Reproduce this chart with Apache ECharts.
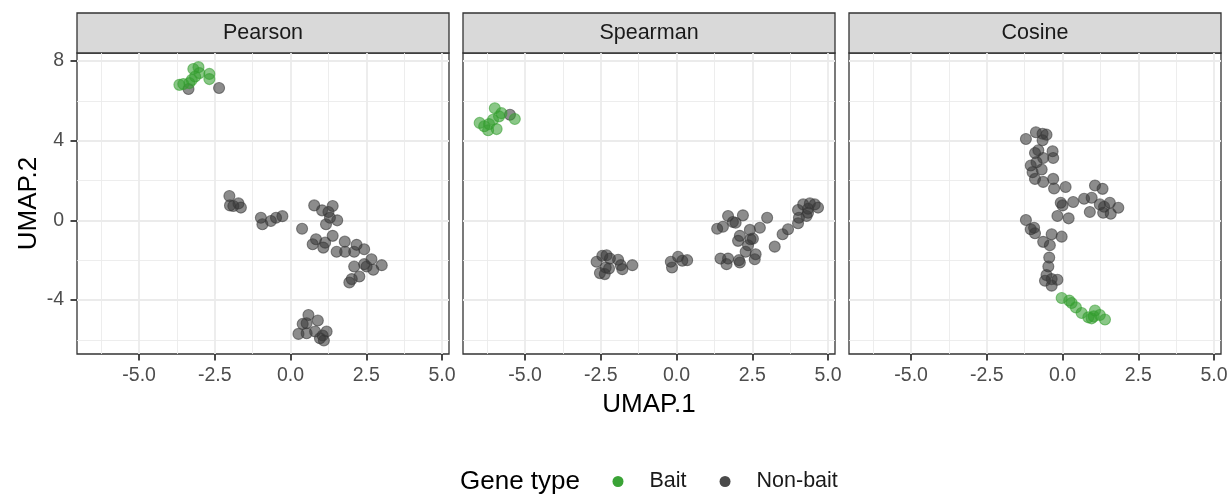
<!DOCTYPE html>
<html>
<head>
<meta charset="utf-8">
<script src="https://cdn.jsdelivr.net/npm/echarts@6/dist/echarts.min.js"></script>
<style>
  html, body { margin: 0; padding: 0; background: #ffffff; }
  #chart { width: 1232px; height: 498px; }
</style>
</head>
<body>
<div id="chart"></div>
<script>
// Facet panels (similarity measure used for the UMAP embedding)
const panels = ['Pearson', 'Spearman', 'Cosine'];
const geneTypes = ['Bait', 'Non-bait'];

// Axis ticks
const xMajorTicks = [-5, -2.5, 0, 2.5, 5];
const xMinorTicks = [-6.25, -3.75, -1.25, 1.25, 3.75];
const yMajorTicks = [-4, 0, 4, 8];
const yMinorTicks = [-6, -2, 2, 6];
const xTickLabels = ['-5.0', '-2.5', '0.0', '2.5', '5.0'];
const yTickLabels = ['-4', '0', '4', '8'];

// Pearson embedding [UMAP.1, UMAP.2]
const pearsonBait = [
  [-3.67, 6.80], [-3.54, 6.84], [-3.34, 6.89], [-3.26, 7.05], [-3.21, 7.60],
  [-3.04, 7.69], [-3.01, 7.39], [-2.68, 7.35], [-2.68, 7.09], [-3.15, 7.22]
];
const pearsonNonBait = [
  [-3.37, 6.59], [-2.36, 6.64],
  [-2.02, 1.22], [-2.00, 0.75], [-1.72, 0.85], [-1.64, 0.64], [-1.89, 0.72],
  [-0.98, 0.13], [-0.93, -0.20], [-0.65, -0.03], [-0.48, 0.13], [-0.27, 0.21],
  [0.38, -0.42], [0.78, 0.75], [1.04, 0.50], [1.39, 0.72], [1.25, 0.42],
  [1.30, 0.13], [1.54, 0.00], [1.17, -0.20], [0.84, -0.95], [0.73, -1.20],
  [1.08, -1.37], [1.14, -1.12], [1.39, -0.78], [1.79, -1.07], [2.18, -1.23],
  [1.52, -1.58], [1.80, -1.58], [2.10, -1.58], [2.43, -1.45], [2.67, -1.95],
  [2.10, -2.32], [2.43, -2.20], [2.51, -2.32], [2.73, -2.48], [3.01, -2.25],
  [2.27, -2.82], [2.02, -2.95], [1.94, -3.12],
  [0.59, -4.75], [0.90, -5.03], [0.40, -5.20], [0.53, -5.17], [0.26, -5.70],
  [0.53, -5.67], [0.81, -5.58], [1.06, -5.78], [1.19, -5.58], [1.10, -6.03],
  [0.97, -5.92]
];

// Spearman embedding
const spearmanBait = [
  [-6.50, 4.89], [-6.35, 4.72], [-6.19, 4.83], [-6.22, 4.52], [-5.94, 4.58],
  [-6.06, 5.05], [-5.86, 5.22], [-6.00, 5.63], [-5.78, 5.38], [-5.34, 5.09]
];
const spearmanNonBait = [
  [-5.50, 5.30],
  [-2.64, -2.08], [-2.45, -1.78], [-2.31, -1.75], [-2.20, -1.92], [-2.34, -2.37],
  [-2.53, -2.65], [-2.37, -2.70], [-2.23, -2.42], [-1.93, -1.98], [-1.84, -2.25],
  [-1.79, -2.45], [-1.46, -2.25],
  [-0.19, -2.08], [-0.15, -2.37], [0.05, -1.83], [0.19, -2.03], [0.35, -2.00],
  [1.45, -1.92], [1.70, -1.92], [1.65, -2.20], [2.06, -2.00], [2.09, -2.12],
  [2.58, -1.95], [2.61, -1.70], [2.28, -1.58], [2.36, -1.25], [2.44, -0.95],
  [2.52, -0.92], [2.09, -0.78], [2.03, -1.03], [2.42, -0.48], [2.75, -0.37],
  [3.24, -1.32], [3.50, -0.70], [3.68, -0.45], [2.99, 0.13], [1.34, -0.42],
  [1.53, -0.32], [1.70, 0.22], [1.86, -0.08], [1.95, -0.12], [2.19, 0.25],
  [4.01, -0.15], [4.04, 0.13], [4.01, 0.52], [4.29, 0.22], [4.34, 0.38],
  [4.18, 0.80], [4.40, 0.85], [4.56, 0.80], [4.67, 0.64], [4.34, 0.58]
];

// Cosine embedding
const cosineBait = [
  [-0.03, -3.90], [0.22, -4.03], [0.30, -4.15], [0.44, -4.37], [0.63, -4.65],
  [0.85, -4.87], [0.96, -4.92], [1.07, -4.53], [1.23, -4.75], [1.03, -4.82],
  [1.40, -4.98]
];
const cosineNonBait = [
  [-1.21, 4.08], [-0.88, 4.42], [-0.66, 4.35], [-0.53, 4.30], [-0.66, 4.02],
  [-0.91, 3.38], [-0.80, 3.52], [-0.64, 3.13], [-0.33, 3.47], [-0.31, 3.13],
  [-1.05, 2.75], [-0.86, 2.92], [-0.99, 2.42], [-0.69, 2.55], [-0.91, 2.08],
  [-0.64, 1.93], [-0.31, 2.08], [-0.28, 1.60], [0.10, 1.67], [1.07, 1.75],
  [1.32, 1.58], [-0.06, 0.88], [0.00, 0.75], [0.35, 0.92], [0.71, 1.08],
  [0.96, 1.13], [1.23, 0.80], [1.37, 0.68], [1.56, 0.88], [1.84, 0.63],
  [1.34, 0.38], [1.59, 0.33], [0.90, 0.42], [-0.17, 0.22], [0.20, 0.10],
  [-1.21, 0.02], [-1.05, -0.45], [-0.94, -0.37], [-0.91, -0.65], [-0.36, -0.70],
  [-0.03, -0.82], [-0.64, -1.08], [-0.42, -1.25], [-0.44, -1.87], [-0.47, -2.32],
  [-0.53, -2.75], [-0.58, -3.03], [-0.36, -2.95], [-0.17, -2.98], [-0.36, -3.28]
];

const baitData = [pearsonBait, spearmanBait, cosineBait];
const nonBaitData = [pearsonNonBait, spearmanNonBait, cosineNonBait];

// Panel geometry and styling
const FONT = '"Liberation Sans", Arial, Helvetica, sans-serif';
const panelLeft = [77, 463, 849];
const panelWidth = 372;
const panelTop = 53;
const panelHeight = 301;
const stripHeight = 40;
const xRange = [-7.05, 5.23];
const yRange = [-6.71, 8.40];
const GRID_COLOR = '#EBEBEB';
const FRAME_COLOR = '#333333';
const BAIT_FILL = 'rgba(52, 158, 47, 0.72)';
const NONBAIT_FILL = 'rgba(56, 56, 56, 0.72)';
const BAIT_KEY = '#3AA336';
const NONBAIT_KEY = '#4A4A4A';

const grids = [], xAxes = [], yAxes = [], series = [], graphics = [];

panels.forEach((name, i) => {
  grids.push({
    left: panelLeft[i], top: panelTop, width: panelWidth, height: panelHeight,
    show: true, backgroundColor: '#ffffff',
    borderColor: FRAME_COLOR, borderWidth: 1.3, containLabel: false
  });

  // minor grid lines
  xAxes.push({
    type: 'value', gridIndex: i, position: 'bottom', min: xRange[0], max: xRange[1],
    axisLine: { show: false, onZero: false },
    axisTick: { show: false, customValues: xMinorTicks },
    axisLabel: { show: false, customValues: xMinorTicks },
    splitLine: { show: true, lineStyle: { color: GRID_COLOR, width: 0.9 } }
  });
  yAxes.push({
    type: 'value', gridIndex: i, position: 'left', min: yRange[0], max: yRange[1],
    axisLine: { show: false, onZero: false },
    axisTick: { show: false, customValues: yMinorTicks },
    axisLabel: { show: false, customValues: yMinorTicks },
    splitLine: { show: true, lineStyle: { color: GRID_COLOR, width: 0.9 } }
  });

  // major axes with ticks and labels
  xAxes.push({
    type: 'value', gridIndex: i, position: 'bottom', min: xRange[0], max: xRange[1],
    name: i === 1 ? 'UMAP.1' : '',
    nameLocation: 'middle', nameGap: 38,
    nameTextStyle: { fontFamily: FONT, fontSize: 26, color: '#000000' },
    axisLine: { show: false, onZero: false },
    axisTick: {
      show: true, inside: false, length: 6.5, customValues: xMajorTicks,
      lineStyle: { color: FRAME_COLOR, width: 1.8 }
    },
    axisLabel: {
      show: true, margin: 12, customValues: xMajorTicks,
      fontFamily: FONT, fontSize: 19.5, color: '#4D4D4D',
      formatter: v => xTickLabels[xMajorTicks.indexOf(v)] ?? ''
    },
    splitLine: { show: true, lineStyle: { color: GRID_COLOR, width: 1.8 } }
  });
  yAxes.push({
    type: 'value', gridIndex: i, position: 'left', min: yRange[0], max: yRange[1],
    name: i === 0 ? 'UMAP.2' : '',
    nameLocation: 'middle', nameGap: 35,
    nameTextStyle: { fontFamily: FONT, fontSize: 26, color: '#000000' },
    axisLine: { show: false, onZero: false },
    axisTick: {
      show: i === 0, inside: false, length: 6.5, customValues: yMajorTicks,
      lineStyle: { color: FRAME_COLOR, width: 1.8 }
    },
    axisLabel: {
      show: i === 0, margin: 13, customValues: yMajorTicks,
      fontFamily: FONT, fontSize: 19.5, color: '#4D4D4D',
      formatter: v => yTickLabels[yMajorTicks.indexOf(v)] ?? ''
    },
    splitLine: { show: true, lineStyle: { color: GRID_COLOR, width: 1.8 } }
  });

  series.push({
    name: 'Non-bait', type: 'scatter',
    xAxisIndex: 2 * i + 1, yAxisIndex: 2 * i + 1,
    data: nonBaitData[i], symbol: 'circle', symbolSize: 11,
    itemStyle: { color: NONBAIT_FILL, borderColor: NONBAIT_FILL, borderWidth: 1.1 },
    emphasis: { disabled: true }, silent: true, z: 3
  });
  series.push({
    name: 'Bait', type: 'scatter',
    xAxisIndex: 2 * i + 1, yAxisIndex: 2 * i + 1,
    data: baitData[i], symbol: 'circle', symbolSize: 11,
    itemStyle: { color: BAIT_FILL, borderColor: BAIT_FILL, borderWidth: 1.1 },
    emphasis: { disabled: true }, silent: true, z: 3
  });

  // facet strip
  graphics.push({
    type: 'rect',
    shape: { x: panelLeft[i], y: panelTop - stripHeight, width: panelWidth, height: stripHeight },
    style: { fill: '#D9D9D9', stroke: FRAME_COLOR, lineWidth: 1.3 },
    silent: true
  });
  graphics.push({
    type: 'text',
    style: {
      text: name, x: panelLeft[i] + panelWidth / 2, y: panelTop - stripHeight / 2,
      align: 'center', verticalAlign: 'middle',
      fontFamily: FONT, fontSize: 21.5, fill: '#1A1A1A'
    },
    silent: true
  });
});

// legend title
graphics.push({
  type: 'text',
  style: {
    text: 'Gene type', x: 460, y: 482, align: 'left', verticalAlign: 'middle',
    fontFamily: FONT, fontSize: 26, fill: '#000000'
  },
  silent: true
});

const chart = echarts.init(document.getElementById('chart'), null, { renderer: 'canvas' });
chart.setOption({
  animation: false,
  backgroundColor: '#ffffff',
  grid: grids,
  xAxis: xAxes,
  yAxis: yAxes,
  series: series,
  graphic: graphics,
  legend: {
    left: 612.5, top: 470.5, orient: 'horizontal', padding: 0,
    selectedMode: false, itemWidth: 11, itemHeight: 11, itemGap: 33,
    icon: 'circle',
    textStyle: { fontFamily: FONT, fontSize: 21.5, color: '#1A1A1A', padding: [0, 0, 0, 21] },
    data: [
      { name: geneTypes[0], itemStyle: { color: BAIT_KEY, borderWidth: 0, opacity: 1 } },
      { name: geneTypes[1], itemStyle: { color: NONBAIT_KEY, borderWidth: 0, opacity: 1 } }
    ]
  }
});
</script>
</body>
</html>
